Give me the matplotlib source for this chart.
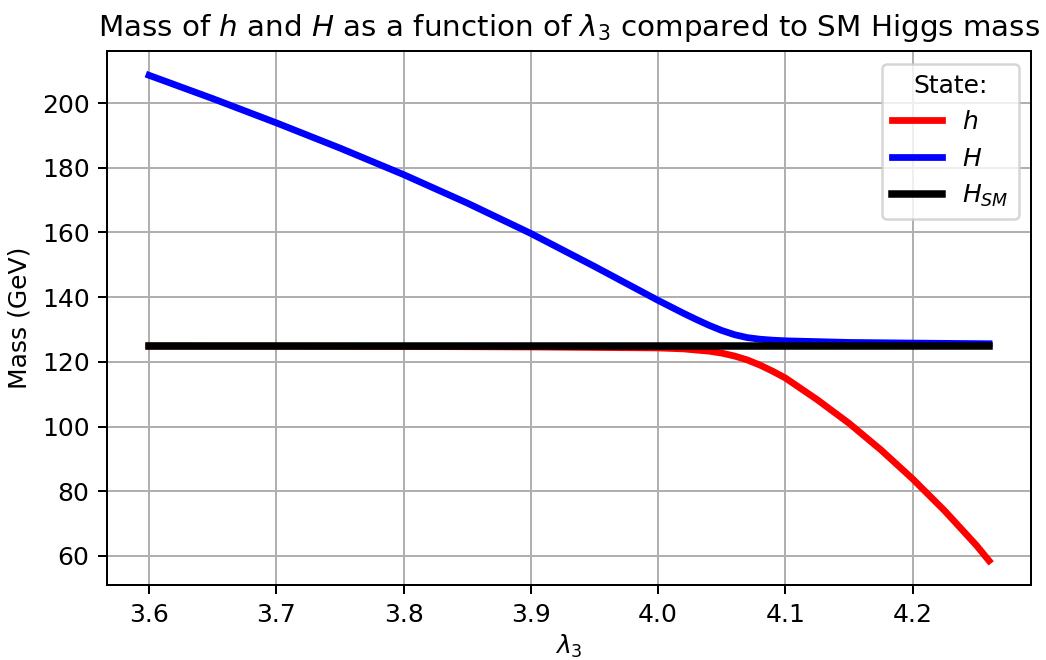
import matplotlib
matplotlib.use("Agg")
import matplotlib.pyplot as plt

# Data
lam_h = [3.6, 3.7, 3.8, 3.9, 4.0, 4.02, 4.04, 4.05, 4.06, 4.07, 4.08, 4.09, 4.1,
         4.125, 4.15, 4.175, 4.2, 4.225, 4.25, 4.26]
m_h = [124.9, 124.85, 124.75, 124.6, 124.3, 124.0, 123.3, 122.7, 121.8, 120.6, 119.0, 117.1, 115.0,
       108.3, 101.0, 92.8, 83.8, 74.0, 63.3, 58.5]

lam_H = [3.6, 3.65, 3.7, 3.75, 3.8, 3.85, 3.9, 3.95, 4.0, 4.01, 4.02, 4.03, 4.04,
         4.05, 4.06, 4.07, 4.08, 4.09, 4.1, 4.15, 4.2, 4.26]
m_H = [208.6, 201.4, 193.9, 186.1, 177.9, 169.1, 159.7, 149.5, 139.0, 137.0, 135.0, 133.1, 131.3,
       129.7, 128.4, 127.5, 127.0, 126.7, 126.5, 126.0, 125.8, 125.6]

lam_SM = [3.6, 4.26]
m_SM = [125.0, 125.0]

labels = ["$h$", "$H$", "$H_{SM}$"]

DPI = 180
fig = plt.figure(figsize=(1046 / DPI, 660 / DPI), dpi=DPI)
ax = fig.add_subplot(111)
fig.subplots_adjust(left=0.1023, right=0.9857, top=0.9227, bottom=0.1136)

ax.plot(lam_h, m_h, color="red", lw=2.7, label=labels[0])
ax.plot(lam_H, m_H, color="blue", lw=2.7, label=labels[1])
ax.plot(lam_SM, m_SM, color="black", lw=3.0, label=labels[2])

ax.grid(True)
ax.set_xlabel(r"$\lambda_3$", labelpad=2.5)
ax.set_ylabel("Mass (GeV)")
ax.set_title(r"Mass of $h$ and $H$ as a function of $\lambda_3$ compared to SM Higgs mass",
             fontsize=11.75)
ax.legend(title="State:", loc="upper right")

fig.savefig("out.png", dpi=DPI)
